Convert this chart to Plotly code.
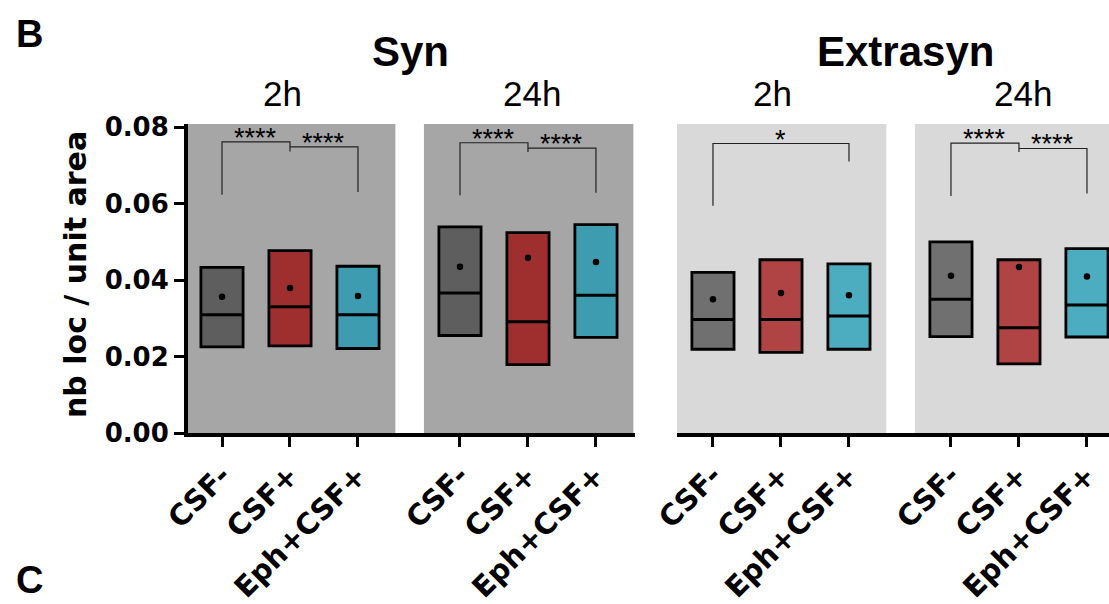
import plotly.graph_objects as go

# ---------------- data ----------------
groups = ["CSF-", "CSF+", "Eph+CSF+"]
time_labels = ["2h", "24h"]
panel_titles = ["Syn", "Extrasyn"]

# lower quartile, upper quartile, median, mean for each group
syn_2h_low = [0.0225, 0.0228, 0.0221]
syn_2h_high = [0.0433, 0.0477, 0.0436]
syn_2h_median = [0.0309, 0.0330, 0.0309]
syn_2h_mean = [0.0356, 0.0379, 0.0358]

syn_24h_low = [0.0255, 0.0179, 0.0250]
syn_24h_high = [0.0539, 0.0524, 0.0545]
syn_24h_median = [0.0366, 0.0291, 0.0360]
syn_24h_mean = [0.0435, 0.0458, 0.0447]

ext_2h_low = [0.0219, 0.0211, 0.0219]
ext_2h_high = [0.0420, 0.0453, 0.0442]
ext_2h_median = [0.0297, 0.0297, 0.0306]
ext_2h_mean = [0.0350, 0.0366, 0.0360]

ext_24h_low = [0.0252, 0.0181, 0.0251]
ext_24h_high = [0.0500, 0.0453, 0.0482]
ext_24h_median = [0.0350, 0.0275, 0.0335]
ext_24h_mean = [0.0411, 0.0434, 0.0409]

# significance brackets: (from group, to group, bracket level, left leg end, right leg end, label)
syn_2h_sig = [(0, 1, 0.0761, 0.0623, 0.0736, "****"), (1, 2, 0.0748, 0.0748, 0.0630, "****")]
syn_24h_sig = [(0, 1, 0.0759, 0.0622, 0.0735, "****"), (1, 2, 0.0745, 0.0745, 0.0628, "****")]
ext_2h_sig = [(0, 2, 0.0757, 0.0594, 0.0710, "*")]
ext_24h_sig = [(0, 1, 0.0758, 0.0620, 0.0735, "****"), (1, 2, 0.0744, 0.0744, 0.0626, "****")]

# ---------------- style ----------------
dark_colors = ["#5e5e5e", "#9f2f2f", "#3d9caf"]
light_colors = ["#707070", "#b04343", "#4badbf"]
dark_bg = "#a6a6a6"
light_bg = "#d9d9d9"
BOX_W = 0.62
BOLD_TICK = dict(family="DejaVu Sans", size=26, color="black", weight="bold")
CAT_FONT = dict(family="DejaVu Sans", size=29, color="black", weight="bold")
ARIAL = "Liberation Sans, Arial, sans-serif"

panels = [
    # subplot, offset, low, high, median, mean, colors, sig, bg
    ("1", 0.0, syn_2h_low, syn_2h_high, syn_2h_median, syn_2h_mean, dark_colors, syn_2h_sig, dark_bg),
    ("1", 3.5, syn_24h_low, syn_24h_high, syn_24h_median, syn_24h_mean, dark_colors, syn_24h_sig, dark_bg),
    ("2", 0.0, ext_2h_low, ext_2h_high, ext_2h_median, ext_2h_mean, light_colors, ext_2h_sig, light_bg),
    ("2", 3.5, ext_24h_low, ext_24h_high, ext_24h_median, ext_24h_mean, light_colors, ext_24h_sig, light_bg),
]

fig = go.Figure()
shapes = []
annotations = []

for sub, off, low, high, med, mean, cols, sig, bg in panels:
    xa = "x" if sub == "1" else "x2"
    ya = "y" if sub == "1" else "y2"
    xs = [off + i for i in range(len(groups))]
    # panel background
    shapes.append(dict(type="rect", xref=xa, yref=ya, x0=off - 0.53, x1=off + 2.55,
                       y0=0, y1=0.0808, fillcolor=bg, line=dict(width=0), layer="below"))
    # floating bars (Q1 -> Q3)
    fig.add_trace(go.Bar(
        x=xs, y=[h - l for h, l in zip(high, low)], base=low, width=BOX_W,
        marker=dict(color=cols, line=dict(color="black", width=2.8)),
        xaxis=xa, yaxis=ya, showlegend=False, hoverinfo="skip"))
    # medians
    mx, my = [], []
    for x, m in zip(xs, med):
        mx += [x - BOX_W / 2, x + BOX_W / 2, None]
        my += [m, m, None]
    fig.add_trace(go.Scatter(x=mx, y=my, mode="lines", line=dict(color="black", width=3),
                             xaxis=xa, yaxis=ya, showlegend=False, hoverinfo="skip"))
    # means
    fig.add_trace(go.Scatter(x=xs, y=mean, mode="markers", marker=dict(color="black", size=6.5),
                             xaxis=xa, yaxis=ya, showlegend=False, hoverinfo="skip"))
    # significance brackets
    bx, by = [], []
    for i, j, lev, lb, rb, lab in sig:
        bx += [xs[i], xs[i], xs[j], xs[j], None]
        by += [lb, lev, lev, rb, None]
        annotations.append(dict(x=(xs[i] + xs[j]) / 2, y=lev, xref=xa, yref=ya, text=lab,
                                showarrow=False, xanchor="center", yanchor="middle", yshift=4,
                                font=dict(family=ARIAL, size=27, color="black")))
    fig.add_trace(go.Scatter(x=bx, y=by, mode="lines", line=dict(color="#222222", width=1.2),
                             xaxis=xa, yaxis=ya, showlegend=False, hoverinfo="skip"))

tick_pos = [i for i in range(3)] + [3.5 + i for i in range(3)]
tick_txt = groups + groups

axis_common = dict(showline=True, linecolor="black", linewidth=4, ticks="outside",
                   ticklen=10, tickwidth=3, tickcolor="black", showgrid=False, zeroline=False,
                   fixedrange=True)

fig.update_layout(
    width=1109, height=604,
    margin=dict(l=188, r=0, t=124, b=167),
    paper_bgcolor="white", plot_bgcolor="rgba(0,0,0,0)",
    barmode="overlay",
    xaxis=dict(domain=[0, 0.48534], anchor="y", range=[-0.5, 6.074],
               tickvals=tick_pos, ticktext=tick_txt, tickangle=-45, tickfont=CAT_FONT, **axis_common),
    xaxis2=dict(domain=[0.53094, 1], anchor="y2", range=[-0.529, 5.824],
                tickvals=tick_pos, ticktext=tick_txt, tickangle=-45, tickfont=CAT_FONT, **axis_common),
    yaxis=dict(domain=[0, 1], anchor="x", range=[0, 0.0808],
               tickvals=[0, 0.02, 0.04, 0.06, 0.08], tickformat=".2f", tickfont=BOLD_TICK,
               **axis_common),
    yaxis2=dict(domain=[0, 1], anchor="x2", range=[0, 0.0808], visible=False, fixedrange=True),
    shapes=shapes,
)


def px_x(px):
    return (px - 188) / 921


def px_y(py):
    return (437 - py) / 313


def label(text, px, py, size, bold=False, family=ARIAL, angle=0):
    font = dict(family=family, size=size, color="black")
    if bold:
        font["weight"] = "bold"
    return dict(x=px_x(px), y=px_y(py), xref="paper", yref="paper", text=text,
                showarrow=False, xanchor="center", yanchor="middle", textangle=angle, font=font)


annotations += [
    label("nb loc / unit area", 75, 277, 30, bold=True, family="DejaVu Sans", angle=-90),
    label(panel_titles[0], 410, 51, 42, bold=True),
    label(panel_titles[1], 905, 51, 42, bold=True),
    label(time_labels[0], 282, 93, 35),
    label(time_labels[1], 532, 93, 35),
    label(time_labels[0], 772, 93, 35),
    label(time_labels[1], 1023, 93, 35),
    label("B", 29, 33, 38, bold=True),
    label("C", 29, 586, 38, bold=True),
]
fig.update_layout(annotations=annotations)

# remove the default page margin so the figure sits at the window's top-left corner
fig.write_html("out.html",
               config={"displayModeBar": False},
               post_script="document.body.style.margin='0px';document.body.style.overflow='hidden';")
